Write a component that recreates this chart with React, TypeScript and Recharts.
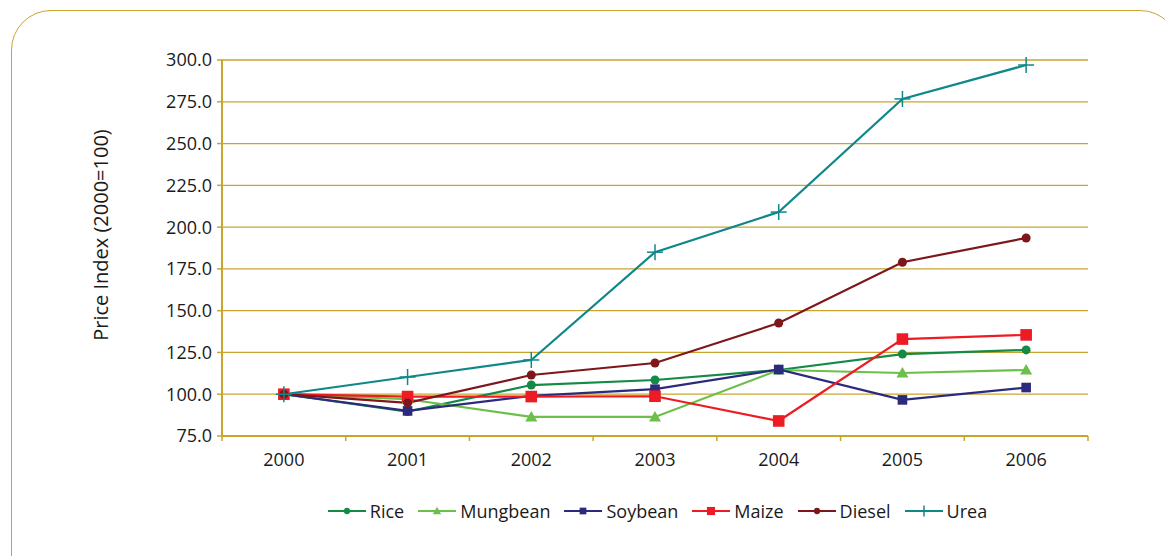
import { LineChart, Line, XAxis, YAxis, CartesianGrid, Legend } from "recharts";

const years = ["2000", "2001", "2002", "2003", "2004", "2005", "2006"];
const rice = [100, 89.6, 105.5, 108.5, 114.5, 124, 126.5];
const mungbean = [100, 97, 86.4, 86.4, 114.5, 112.7, 114.5];
const soybean = [100, 90, 99, 103, 114.8, 96.6, 104];
const maize = [100, 98.6, 98.6, 98.8, 84, 133, 135.5];
const diesel = [100, 94.8, 111.5, 118.7, 142.6, 179, 193.5];
const urea = [100, 110.3, 120.5, 185, 209, 276.7, 297];
const yTicks = [75, 100, 125, 150, 175, 200, 225, 250, 275, 300];

const data = years.map((year, i) => ({
  year,
  Rice: rice[i],
  Mungbean: mungbean[i],
  Soybean: soybean[i],
  Maize: maize[i],
  Diesel: diesel[i],
  Urea: urea[i],
}));

const GOLD = "#c9a52e";
const FONT = "'Open Sans', sans-serif";

const colors: Record<string, string> = {
  Rice: "#138a45",
  Mungbean: "#6cbf4a",
  Soybean: "#2b2a7c",
  Maize: "#ed1c24",
  Diesel: "#7d171b",
  Urea: "#10878a",
};

const series = ["Rice", "Mungbean", "Soybean", "Maize", "Diesel", "Urea"];

// draws the marker for a series at (cx, cy), s = scale
const marker = (name: string, cx: number, cy: number, s = 1) => {
  const c = colors[name];
  if (name === "Rice" || name === "Diesel")
    return <circle cx={cx} cy={cy} r={4.5 * s} fill={c} />;
  if (name === "Mungbean") {
    const h = 6 * s;
    return (
      <path
        d={`M${cx},${cy - h} L${cx + h},${cy + h * 0.75} L${cx - h},${cy + h * 0.75} Z`}
        fill={c}
      />
    );
  }
  if (name === "Soybean") {
    const h = 4.8 * s;
    return <rect x={cx - h} y={cy - h} width={2 * h} height={2 * h} fill={c} />;
  }
  if (name === "Maize") {
    const h = 5.8 * s;
    return <rect x={cx - h} y={cy - h} width={2 * h} height={2 * h} fill={c} />;
  }
  const h = 8 * s;
  return (
    <g stroke={c} strokeWidth={1.5}>
      <line x1={cx - h} x2={cx + h} y1={cy} y2={cy} />
      <line x1={cx} x2={cx} y1={cy - h} y2={cy + h} />
    </g>
  );
};

const makeDot = (name: string) => (props: any) => {
  const { cx, cy, index } = props;
  return <g key={name + index}>{marker(name, cx, cy)}</g>;
};

const XTick = (props: any) => {
  const { x, y, payload, index } = props;
  const half = payload.offset || 61.9;
  return (
    <g>
      <line x1={x - half} x2={x - half} y1={y} y2={y + 5} stroke={GOLD} strokeWidth={1.5} />
      {index === years.length - 1 && (
        <line x1={x + half} x2={x + half} y1={y} y2={y + 5} stroke={GOLD} strokeWidth={1.5} />
      )}
      <text x={x} y={y + 30} textAnchor="middle" fontSize={18} fill="#1a1a1a" fontFamily={FONT}>
        {payload.value}
      </text>
    </g>
  );
};

const YLabel = (props: any) => {
  const { viewBox } = props;
  return (
    <text
      transform={`translate(${viewBox.x + 100}, ${viewBox.y + 175}) rotate(-90)`}
      textAnchor="middle"
      dominantBaseline="central"
      fontSize={20}
      fill="#1a1a1a"
      fontFamily={FONT}
    >
      Price Index (2000=100)
    </text>
  );
};

const LegendContent = () => (
  <div
    style={{
      display: "flex",
      justifyContent: "center",
      alignItems: "center",
      gap: 14,
      fontFamily: FONT,
      fontSize: 18,
      color: "#1a1a1a",
    }}
  >
    {series.map((s) => (
      <div key={s} style={{ display: "flex", alignItems: "center" }}>
        <svg width={38} height={16}>
          <line x1={0} x2={38} y1={8} y2={8} stroke={colors[s]} strokeWidth={2} />
          {marker(s, 19, 8, 0.7)}
        </svg>
        <span style={{ marginLeft: 4 }}>{s}</span>
      </div>
    ))}
  </div>
);

export default function App() {
  return (
    <div
      style={{
        position: "absolute",
        left: 0,
        top: 0,
        width: 1165,
        height: 556,
        overflow: "hidden",
        background: "#fff",
      }}
    >
      <div
        style={{
          position: "absolute",
          left: 11,
          top: 10,
          width: 1169,
          height: 600,
          border: `1.5px solid ${GOLD}`,
          borderRadius: 40,
          boxSizing: "border-box",
        }}
      />
      <LineChart
        width={1165}
        height={556}
        data={data}
        margin={{ top: 60, right: 77, bottom: 80, left: 0 }}
      >
        <CartesianGrid horizontal vertical={false} stroke={GOLD} strokeWidth={1.3} />
        <XAxis
          dataKey="year"
          scale="band"
          height={40}
          axisLine={{ stroke: GOLD, strokeWidth: 2 }}
          tickLine={false}
          tickSize={0}
          tickMargin={0}
          tick={<XTick />}
          interval={0}
        />
        <YAxis
          width={222}
          domain={[75, 300]}
          ticks={yTicks}
          interval={0}
          tickFormatter={(v: number) => v.toFixed(1)}
          axisLine={{ stroke: GOLD, strokeWidth: 2 }}
          tickLine={{ stroke: GOLD, strokeWidth: 1.5 }}
          tickSize={5}
          tickMargin={5}
          tick={{ fontSize: 18, fill: "#1a1a1a", fontFamily: FONT }}
          label={<YLabel />}
        />
        <YAxis
          yAxisId="r"
          orientation="right"
          width={0}
          tick={false}
          tickLine={false}
          axisLine={{ stroke: GOLD, strokeWidth: 2 }}
        />
        {series.map((s) => (
          <Line
            key={s}
            dataKey={s}
            type="linear"
            stroke={colors[s]}
            strokeWidth={2.2}
            dot={makeDot(s)}
            activeDot={false}
            isAnimationActive={false}
          />
        ))}
        <Legend
          layout="horizontal"
          verticalAlign="middle"
          align="center"
          wrapperStyle={{ top: 499, left: 75, width: 1165 }}
          content={<LegendContent />}
        />
      </LineChart>
    </div>
  );
}
